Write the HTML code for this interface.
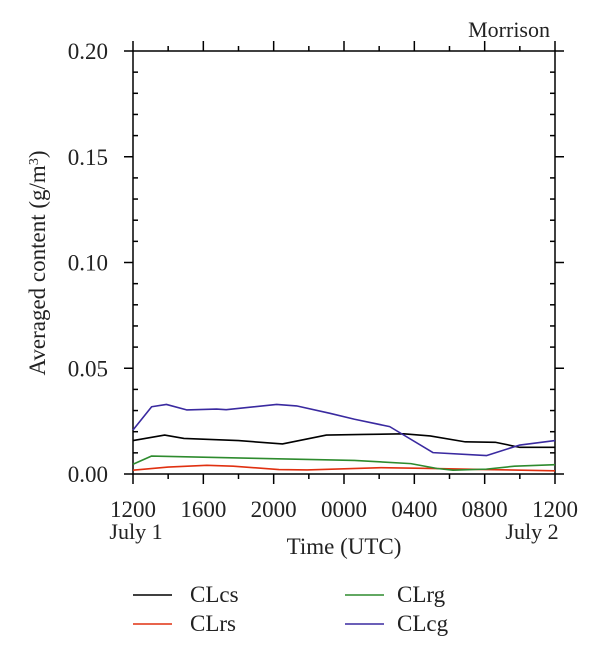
<!DOCTYPE html>
<html><head><meta charset="utf-8"><style>
html,body{margin:0;padding:0;background:#fff;}
svg{display:block;font-family:"Liberation Serif",serif;}
</style></head><body>
<svg id="chart" width="600" height="660">
<g id="axes"></g>
<g id="series"></g>
<text x="550" y="37" font-size="22" text-anchor="end" fill="#222">Morrison</text>
<text transform="translate(45,263) rotate(-90)" font-size="23" text-anchor="middle" fill="#222">Averaged content (g/m<tspan baseline-shift="super" font-size="14">3</tspan>)</text>
<text x="344" y="554" font-size="23" text-anchor="middle" fill="#222">Time (UTC)</text>
<text x="136" y="539" font-size="22" text-anchor="middle" fill="#222">July 1</text>
<text x="532" y="539" font-size="22" text-anchor="middle" fill="#222">July 2</text>
<g>
<line x1="133" y1="595" x2="172" y2="595" stroke="#000" stroke-width="1.5"/>
<text x="190" y="602" font-size="23" fill="#222">CLcs</text>
<line x1="133" y1="624" x2="172" y2="624" stroke="#e03010" stroke-width="1.5"/>
<text x="190" y="631" font-size="23" fill="#222">CLrs</text>
<line x1="345" y1="595" x2="384" y2="595" stroke="#2e8b2e" stroke-width="1.5"/>
<text x="397" y="602" font-size="23" fill="#222">CLrg</text>
<line x1="345" y1="624" x2="384" y2="624" stroke="#3a2aa0" stroke-width="1.5"/>
<text x="397" y="631" font-size="23" fill="#222">CLcg</text>
</g>
</svg>
<script>
const xTickLabels = ["1200","1600","2000","0000","0400","0800","1200"];
const yTickLabels = ["0.00","0.05","0.10","0.15","0.20"];
const clcsH = [0,1.8,2.9,6,8.5,11,13.1,15.4,16.9,18.9,20.6,22,24];
const clcsV = [0.0158,0.0184,0.0168,0.0158,0.0142,0.0184,0.0187,0.019,0.018,0.0152,0.015,0.0126,0.0126];
const clrsH = [0,2,4.2,5.7,8.3,9.9,14.1,16.5,20.1,24];
const clrsV = [0.0018,0.0033,0.0041,0.0037,0.0021,0.0019,0.003,0.0027,0.0021,0.0015];
const clrgH = [0,1.06,6.9,12.6,13.5,15.8,17.3,18.2,20.1,21.7,24];
const clrgV = [0.0046,0.0085,0.0074,0.0064,0.006,0.0049,0.0026,0.0018,0.0023,0.0037,0.0044];
const clcgH = [0,1.06,1.9,3.05,4.75,5.3,8.17,9.3,11.2,12.6,14.6,17.07,20.1,22,24];
const clcgV = [0.0208,0.0318,0.0329,0.0303,0.0307,0.0304,0.0329,0.0322,0.0287,0.0259,0.0224,0.0101,0.0087,0.0137,0.0158];
const X0=133,X1=555,Y0=474,Y1=51;
function xs(h){return X0+(X1-X0)*h/24;}
function ys(v){return Y0-(Y0-Y1)*v/0.2;}
const NS="http://www.w3.org/2000/svg";
const axes=document.getElementById('axes');
function ln(x1,y1,x2,y2,name){const l=document.createElementNS(NS,'line');l.setAttribute('x1',x1);l.setAttribute('y1',y1);l.setAttribute('x2',x2);l.setAttribute('y2',y2);l.setAttribute('stroke','#000');l.setAttribute('stroke-width','1.5');


axes.appendChild(l);return l;}
const fr=document.createElementNS(NS,'rect');fr.setAttribute('x',X0);fr.setAttribute('y',Y1);fr.setAttribute('width',X1-X0);fr.setAttribute('height',Y0-Y1);fr.setAttribute('fill','none');fr.setAttribute('stroke','#000');fr.setAttribute('stroke-width','1.5');


axes.appendChild(fr);
for(let i=0;i<=20;i++){const v=i*0.01,y=ys(v);const major=i%5===0;
 if(major){ln(X0-9,y,X0,y,'y-tick-major');ln(X1,y,X1+9,y,'y-tick-major-right');}
 else{ln(X0,y,X0+5,y,'y-tick-minor');ln(X1-5,y,X1,y,'y-tick-minor-right');}}
yTickLabels.forEach((s,i)=>{const t=document.createElementNS(NS,'text');t.setAttribute('x',108);t.setAttribute('y',ys(parseFloat(s))+8);t.setAttribute('font-size','23');t.setAttribute('text-anchor','end');t.setAttribute('fill','#222');t.textContent=s;


axes.appendChild(t);});
for(let h=0;h<=24;h+=2){const x=xs(h);const major=h%4===0;const L=major?10:5;
 ln(x,Y0,x,Y0+L,'x-tick');ln(x,Y1-L,x,Y1,'x-tick-top');}
xTickLabels.forEach((s,i)=>{const t=document.createElementNS(NS,'text');t.setAttribute('x',xs(i*4));t.setAttribute('y',517);t.setAttribute('font-size','23');t.setAttribute('text-anchor','middle');t.setAttribute('fill','#222');t.textContent=s;


axes.appendChild(t);});
const ser=document.getElementById('series');
function series(H,V,color,name){const p=document.createElementNS(NS,'polyline');p.setAttribute('points',H.map((h,i)=>xs(h)+','+ys(V[i])).join(' '));p.setAttribute('fill','none');p.setAttribute('stroke',color);p.setAttribute('stroke-width','1.6');p.setAttribute('stroke-linejoin','round');


ser.appendChild(p);}
series(clrsH,clrsV,'#e03010','line-clrs');
series(clrgH,clrgV,'#2e8b2e','line-clrg');
series(clcsH,clcsV,'#000','line-clcs');
series(clcgH,clcgV,'#3a2aa0','line-clcg');
</script>
</body></html>
